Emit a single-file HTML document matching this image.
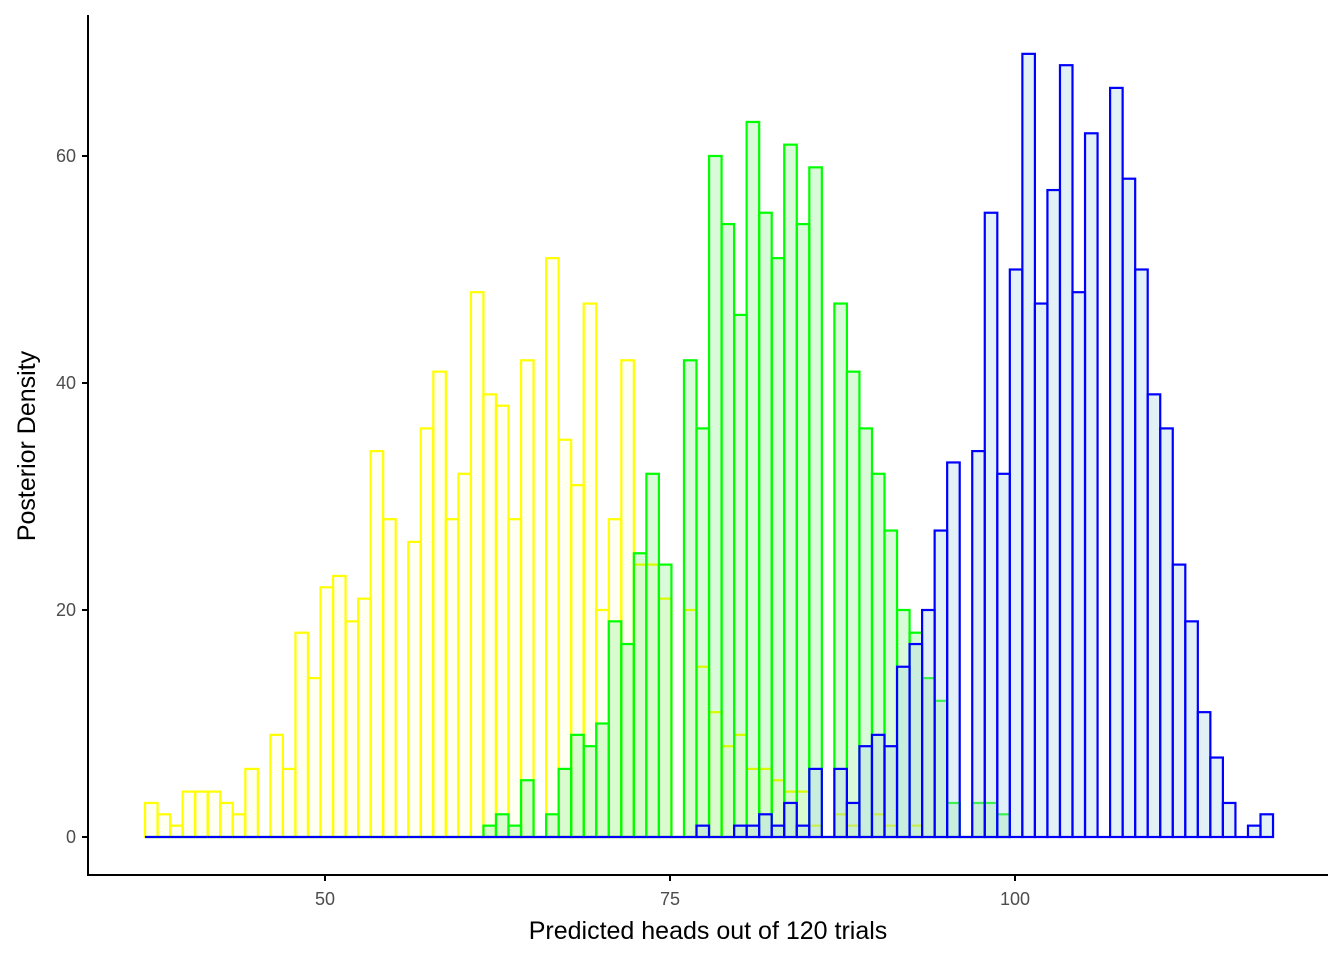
<!DOCTYPE html>
<html><head><meta charset="utf-8"><style>
body{margin:0;background:#fff;}
svg{display:block;font-family:"Liberation Sans",sans-serif;}
</style></head><body>
<svg id="chart" width="1344" height="960">
<rect x="0" y="0" width="1344" height="960" fill="#fff"/>
<g id="bars"></g>
<g id="axes"></g>
<text x="708" y="939" text-anchor="middle" font-size="25" fill="#000">Predicted heads out of 120 trials</text>
<text transform="translate(35,446) rotate(-90)" text-anchor="middle" font-size="25" fill="#000">Posterior Density</text>
</svg>
<script>
const binStart = 36.96;
const binWidth = 0.9082;
const yellowCounts = [3,2,1,4,4,4,3,2,6,0,9,6,18,14,22,23,19,21,34,28,0,26,36,41,28,32,48,39,38,28,42,0,51,35,31,47,20,28,42,24,24,21,0,20,15,11,8,9,6,6,5,4,4,1,0,2,1,0,2,1,0,1];
const greenCounts = [0,0,0,0,0,0,0,0,0,0,0,0,0,0,0,0,0,0,0,0,0,0,0,0,0,0,0,1,2,1,5,0,2,6,9,8,10,19,17,25,32,24,0,42,36,60,54,46,63,55,51,61,54,59,0,47,41,36,32,27,20,18,14,12,3,0,3,3,2];
const blueCounts = [0,0,0,0,0,0,0,0,0,0,0,0,0,0,0,0,0,0,0,0,0,0,0,0,0,0,0,0,0,0,0,0,0,0,0,0,0,0,0,0,0,0,0,0,1,0,0,1,1,2,1,3,1,6,0,6,3,8,9,8,15,17,20,27,33,0,34,55,32,50,69,47,57,68,48,62,0,66,58,50,39,36,24,19,11,7,3,0,1,2];
const xTicks = [50,75,100];
const yTicks = [0,20,40,60];

function xs(v){ return 325 + (v-50)*13.8; }
function ys(v){ return 837 - v*11.35; }
const NS = "http://www.w3.org/2000/svg";
const barsG = document.getElementById('bars');
const axesG = document.getElementById('axes');

function drawSeries(counts, stroke, fill, name, n){
  const g = document.createElementNS(NS,'g');
  
  
  for(let i=0;i<n;i++){
    const c = counts[i] || 0;
    const x0 = xs(binStart + i*binWidth), x1 = xs(binStart + (i+1)*binWidth);
    let r;
    if(c === 0){
      r = document.createElementNS(NS,'line');
      r.setAttribute('x1', x0); r.setAttribute('x2', x1);
      r.setAttribute('y1', ys(0)); r.setAttribute('y2', ys(0));
    } else {
      r = document.createElementNS(NS,'rect');
      r.setAttribute('x', x0); r.setAttribute('width', x1-x0);
      r.setAttribute('y', ys(c)); r.setAttribute('height', ys(0)-ys(c));
      r.setAttribute('fill', fill);
    }
    r.setAttribute('stroke', stroke);
    r.setAttribute('stroke-width', '2.2');
    
    
    g.appendChild(r);
  }
  barsG.appendChild(g);
}
drawSeries(yellowCounts, '#ffff00', 'rgba(255,255,0,0.05)', 'yellow', yellowCounts.length);
drawSeries(greenCounts, '#00ff00', 'rgba(0,230,0,0.15)', 'green', greenCounts.length);
drawSeries(blueCounts, '#0000ff', 'rgba(173,216,230,0.35)', 'blue', blueCounts.length);

function line(x1,y1,x2,y2,name){
  const l = document.createElementNS(NS,'line');
  l.setAttribute('x1',x1);l.setAttribute('y1',y1);l.setAttribute('x2',x2);l.setAttribute('y2',y2);
  l.setAttribute('stroke','#000');l.setAttribute('stroke-width','2');
  
  
  axesG.appendChild(l);
}
function label(x,y,t,anchor,name){
  const e = document.createElementNS(NS,'text');
  e.setAttribute('x',x);e.setAttribute('y',y);e.setAttribute('text-anchor',anchor);
  e.setAttribute('font-size','18');e.setAttribute('fill','#4d4d4d');
  e.textContent = t;
  
  
  axesG.appendChild(e);
}
line(88,15,88,876,'y-axis-line');
line(87,875,1328,875,'x-axis-line');
yTicks.forEach(v=>{
  line(82,ys(v),88,ys(v),'y-tick');
  label(76,ys(v)+6,String(v),'end','y-tick-label');
});
xTicks.forEach(v=>{
  line(xs(v),875,xs(v),881,'x-tick');
  label(xs(v),905,String(v),'middle','x-tick-label');
});
</script>
</body></html>
